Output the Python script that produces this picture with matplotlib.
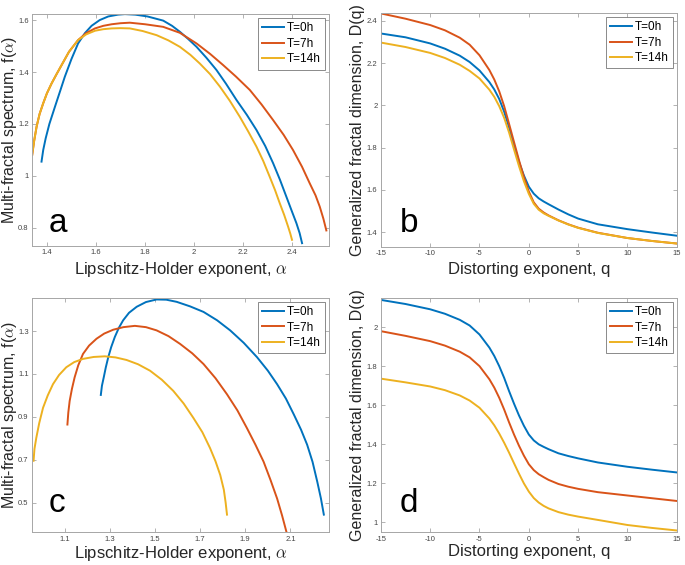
import matplotlib
matplotlib.use('Agg')
import matplotlib.pyplot as plt

plt.rcParams['font.family'] = ['Liberation Sans', 'DejaVu Sans']
plt.rcParams['mathtext.fontset'] = 'cm'

# MATLAB default line colours
colors = ['#0072BD', '#D95319', '#EDB120']
labels = ['T=0h', 'T=7h', 'T=14h']

# ---- panel a: f(alpha) spectrum ----
a_alpha_0h = [1.378, 1.385, 1.395, 1.410, 1.433, 1.455, 1.473, 1.500, 1.527, 1.555,
              1.582, 1.615, 1.650, 1.690, 1.718, 1.760, 1.810, 1.874, 1.910, 1.942,
              1.975, 2.010, 2.050, 2.091, 2.130, 2.173, 2.215, 2.254, 2.290, 2.322,
              2.350, 2.376, 2.398, 2.417, 2.430, 2.440]
a_f_0h = [1.055, 1.100, 1.145, 1.200, 1.267, 1.330, 1.382, 1.450, 1.510, 1.550,
          1.578, 1.600, 1.614, 1.621, 1.623, 1.621, 1.614, 1.598, 1.578, 1.555,
          1.528, 1.497, 1.455, 1.408, 1.355, 1.292, 1.235, 1.177, 1.115, 1.049,
          0.985, 0.920, 0.865, 0.818, 0.780, 0.741]
a_alpha_7h = [1.340, 1.348, 1.358, 1.370, 1.385, 1.400, 1.419, 1.440, 1.460, 1.490,
              1.527, 1.560, 1.596, 1.630, 1.664, 1.700, 1.738, 1.800, 1.874, 1.942,
              2.010, 2.065, 2.118, 2.170, 2.227, 2.275, 2.322, 2.365, 2.403, 2.440,
              2.471, 2.495, 2.512, 2.527, 2.539]
a_f_7h = [1.081, 1.135, 1.190, 1.238, 1.280, 1.318, 1.356, 1.393, 1.427, 1.478,
          1.523, 1.550, 1.568, 1.578, 1.584, 1.588, 1.590, 1.584, 1.574, 1.551,
          1.510, 1.470, 1.427, 1.383, 1.331, 1.275, 1.215, 1.158, 1.100, 1.035,
          0.972, 0.925, 0.882, 0.835, 0.790]
a_alpha_14h = [1.340, 1.348, 1.358, 1.370, 1.385, 1.400, 1.419, 1.440, 1.460, 1.490,
               1.527, 1.560, 1.596, 1.630, 1.664, 1.700, 1.738, 1.790, 1.847, 1.895,
               1.942, 1.985, 2.023, 2.065, 2.105, 2.145, 2.186, 2.220, 2.254, 2.282,
               2.308, 2.330, 2.349, 2.367, 2.383, 2.392, 2.399]
a_f_14h = [1.081, 1.135, 1.190, 1.238, 1.280, 1.318, 1.356, 1.393, 1.427, 1.478,
           1.523, 1.545, 1.559, 1.565, 1.568, 1.569, 1.568, 1.558, 1.542, 1.522,
           1.497, 1.466, 1.433, 1.392, 1.344, 1.290, 1.228, 1.172, 1.113, 1.057,
           0.997, 0.945, 0.895, 0.850, 0.805, 0.778, 0.754]

# ---- panel b: D(q) ----
b_q = [-15, -12.5, -10, -8.5, -7, -6, -5, -4, -3.5, -3, -2.5, -2, -1.5, -1, -0.5,
       0, 0.5, 1, 1.5, 2, 3, 4, 5, 7, 10, 12.5, 15]
b_D_0h = [2.340, 2.322, 2.293, 2.268, 2.235, 2.205, 2.165, 2.110, 2.075, 2.030,
          1.970, 1.895, 1.812, 1.733, 1.668, 1.615, 1.582, 1.560, 1.545, 1.532,
          1.507, 1.484, 1.464, 1.437, 1.414, 1.398, 1.383]
b_D_7h = [2.435, 2.410, 2.380, 2.355, 2.320, 2.287, 2.237, 2.167, 2.122, 2.066,
          1.996, 1.912, 1.826, 1.741, 1.661, 1.592, 1.541, 1.511, 1.493, 1.479,
          1.456, 1.437, 1.421, 1.397, 1.372, 1.358, 1.346]
b_D_14h = [2.297, 2.276, 2.248, 2.224, 2.192, 2.163, 2.127, 2.074, 2.040, 1.996,
           1.941, 1.871, 1.791, 1.713, 1.641, 1.581, 1.534, 1.506, 1.489, 1.477,
           1.455, 1.436, 1.420, 1.396, 1.372, 1.358, 1.346]

# ---- panel c: f(alpha) spectrum ----
c_alpha_0h = [1.260, 1.265, 1.273, 1.282, 1.293, 1.306, 1.322, 1.340, 1.359, 1.385,
              1.419, 1.460, 1.507, 1.550, 1.596, 1.655, 1.715, 1.775, 1.833, 1.893,
              1.952, 2.000, 2.041, 2.080, 2.115, 2.147, 2.174, 2.198, 2.219, 2.235,
              2.248]
c_f_0h = [1.002, 1.045, 1.084, 1.130, 1.178, 1.225, 1.272, 1.315, 1.350, 1.385,
          1.413, 1.435, 1.447, 1.446, 1.436, 1.415, 1.389, 1.350, 1.303, 1.245,
          1.178, 1.115, 1.052, 0.985, 0.911, 0.840, 0.770, 0.690, 0.597, 0.520,
          0.444]
c_alpha_7h = [1.112, 1.116, 1.122, 1.132, 1.144, 1.160, 1.181, 1.208, 1.241, 1.275,
              1.315, 1.360, 1.411, 1.460, 1.507, 1.560, 1.611, 1.665, 1.715, 1.768,
              1.819, 1.865, 1.907, 1.945, 1.981, 2.012, 2.041, 2.063, 2.082]
c_f_7h = [0.864, 0.920, 0.974, 1.030, 1.084, 1.140, 1.193, 1.232, 1.264, 1.288,
          1.306, 1.318, 1.324, 1.318, 1.303, 1.276, 1.240, 1.196, 1.146, 1.080,
          1.005, 0.930, 0.848, 0.770, 0.691, 0.605, 0.519, 0.440, 0.365]
c_alpha_14h = [0.962, 0.966, 0.974, 0.987, 1.004, 1.025, 1.048, 1.075, 1.107, 1.142,
               1.181, 1.228, 1.278, 1.325, 1.374, 1.425, 1.478, 1.530, 1.581, 1.627,
               1.670, 1.710, 1.744, 1.768, 1.789, 1.805, 1.813, 1.819]
c_f_14h = [0.695, 0.750, 0.801, 0.870, 0.942, 1.000, 1.052, 1.095, 1.131, 1.155,
           1.170, 1.179, 1.182, 1.177, 1.165, 1.145, 1.115, 1.073, 1.021, 0.962,
           0.895, 0.828, 0.754, 0.693, 0.629, 0.560, 0.500, 0.444]

# ---- panel d: D(q) ----
d_q = [-15, -12.5, -10, -8.5, -7, -6, -5, -4, -3.5, -3, -2.5, -2, -1.5, -1, -0.5,
       0, 0.5, 1, 1.5, 2, 3, 4, 5, 7, 10, 12.5, 15]
d_D_0h = [2.139, 2.118, 2.091, 2.068, 2.037, 2.008, 1.962, 1.895, 1.852, 1.800,
          1.740, 1.672, 1.608, 1.548, 1.495, 1.450, 1.420, 1.400, 1.387, 1.375,
          1.354, 1.340, 1.328, 1.307, 1.285, 1.270, 1.256]
d_D_7h = [1.979, 1.955, 1.928, 1.905, 1.874, 1.845, 1.800, 1.733, 1.690, 1.638,
          1.578, 1.512, 1.450, 1.393, 1.342, 1.298, 1.268, 1.247, 1.232, 1.218,
          1.197, 1.183, 1.172, 1.155, 1.138, 1.124, 1.110]
d_D_14h = [1.736, 1.717, 1.696, 1.677, 1.650, 1.624, 1.587, 1.532, 1.497, 1.455,
           1.408, 1.357, 1.303, 1.250, 1.200, 1.158, 1.125, 1.102, 1.085, 1.072,
           1.053, 1.040, 1.030, 1.013, 0.987, 0.972, 0.959]

spec_xlabel = r'Lipschitz-Holder exponent, $\alpha$'
spec_ylabel = r'Multi-fractal spectrum, f($\alpha$)'
dim_xlabel = 'Distorting exponent, q'
dim_ylabel = 'Generalized fractal dimension, D(q)'


def style_axes(ax):
    for s in ax.spines.values():
        s.set_color('#a6a6a6')
        s.set_linewidth(0.7)
    ax.tick_params(direction='in', length=3, width=0.6, color='#a6a6a6',
                   labelsize=5.5, labelcolor='#444444', top=True, right=True, pad=2.5)


def draw_panel(ax, xs, ys, xlim, ylim, xticks, yticks, xlabel, ylabel,
               letter, ylab_x, xlab_y, letter_pos):
    for x, y, c, lab in zip(xs, ys, colors, labels):
        ax.plot(x, y, color=c, lw=1.4, label=lab, solid_joinstyle='round')
    ax.set_xlim(xlim)
    ax.set_ylim(ylim)
    ax.set_xticks(xticks)
    ax.set_yticks(yticks)
    ax.set_xticklabels([('%g' % t) for t in xticks])
    ax.set_yticklabels([('%g' % t) for t in yticks])
    style_axes(ax)
    ax.set_xlabel(xlabel, fontsize=12, color='#262626')
    ax.set_ylabel(ylabel, fontsize=11.5, color='#262626')
    ax.yaxis.set_label_coords(ylab_x, 0.5)
    ax.xaxis.set_label_coords(0.5, xlab_y)
    ax.text(letter_pos[0], letter_pos[1], letter, transform=ax.transAxes,
            fontsize=24, ha='left', va='baseline')
    leg = ax.legend(loc='upper right', fontsize=8.5, frameon=True, fancybox=False,
                    borderpad=0.35, handlelength=1.9, handletextpad=0.2,
                    labelspacing=0.3, borderaxespad=0.35)
    leg.get_frame().set_edgecolor('#555555')
    leg.get_frame().set_linewidth(0.6)


fig = plt.figure(figsize=(6.85, 5.65), dpi=100)

ax_a = fig.add_axes([0.047, 0.565, 0.433, 0.410])
ax_b = fig.add_axes([0.556, 0.563, 0.432, 0.414])
ax_c = fig.add_axes([0.047, 0.058, 0.433, 0.415])
ax_d = fig.add_axes([0.556, 0.058, 0.432, 0.415])

draw_panel(ax_a, [a_alpha_0h, a_alpha_7h, a_alpha_14h], [a_f_0h, a_f_7h, a_f_14h],
           (1.34, 2.549), (0.731, 1.623), [1.4, 1.6, 1.8, 2.0, 2.2, 2.4],
           [0.8, 1.0, 1.2, 1.4, 1.6], spec_xlabel, spec_ylabel, 'a',
           -0.045, -0.063, (0.056, 0.06))
draw_panel(ax_b, [b_q, b_q, b_q], [b_D_0h, b_D_7h, b_D_14h],
           (-15, 15), (1.33, 2.437), [-15, -10, -5, 0, 5, 10, 15],
           [1.4, 1.6, 1.8, 2.0, 2.2, 2.4], dim_xlabel, dim_ylabel, 'b',
           -0.055, -0.063, (0.064, 0.064))
draw_panel(ax_c, [c_alpha_0h, c_alpha_7h, c_alpha_14h], [c_f_0h, c_f_7h, c_f_14h],
           (0.956, 2.27), (0.362, 1.455), [1.1, 1.3, 1.5, 1.7, 1.9, 2.1],
           [0.5, 0.7, 0.9, 1.1, 1.3], spec_xlabel, spec_ylabel, 'c',
           -0.045, -0.052, (0.056, 0.085))
draw_panel(ax_d, [d_q, d_q, d_q], [d_D_0h, d_D_7h, d_D_14h],
           (-15, 15), (0.95, 2.15), [-15, -10, -5, 0, 5, 10, 15],
           [1.0, 1.2, 1.4, 1.6, 1.8, 2.0], dim_xlabel, dim_ylabel, 'd',
           -0.055, -0.052, (0.064, 0.085))

fig.savefig('out.png', dpi=100)
